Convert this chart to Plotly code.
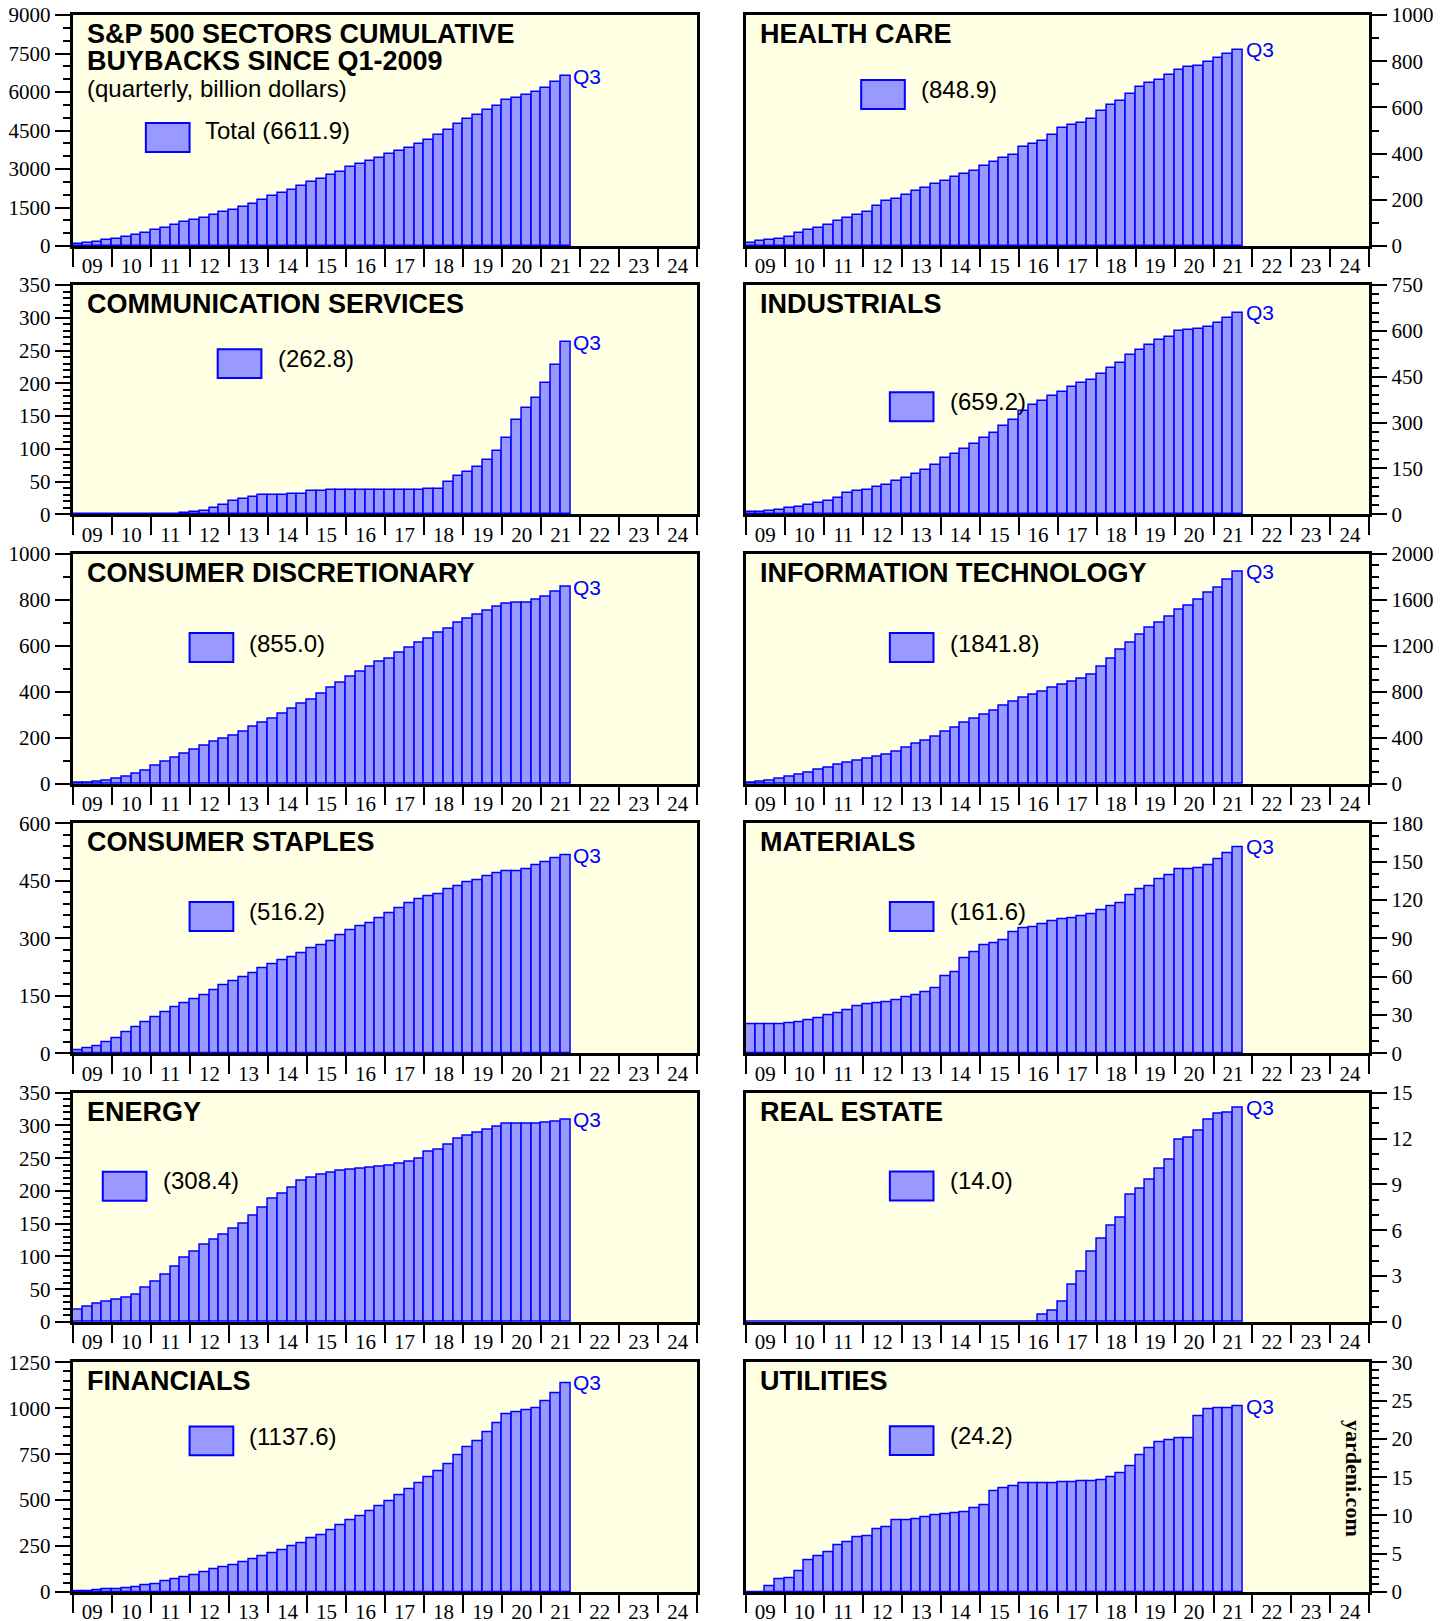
import plotly.graph_objects as go

# ---------------- data (billion dollars, cumulative, Q1-2009 .. Q3-2021) ----------------
YEAR_LABELS = ["09", "10", "11", "12", "13", "14", "15", "16", "17", "18", "19", "20", "21", "22", "23", "24"]
FIRST_YEAR = 2009
LAST_YEAR = 2025

TOTAL = [90, 130, 170, 220, 270, 340, 415, 505, 610, 700,
         820, 920, 1000, 1100, 1195, 1310, 1415, 1530, 1650, 1780,
         1935, 2050, 2195, 2340, 2480, 2610, 2750, 2900, 3065, 3195,
         3300, 3440, 3570, 3690, 3830, 3960, 4140, 4340, 4530, 4750,
         4960, 5120, 5300, 5470, 5690, 5780, 5870, 6010, 6170, 6380,
         6611.9]
HEALTH = [14, 20, 25, 32, 40, 55, 68, 79, 90, 107,
          120, 136, 149, 172, 193, 205, 222, 237, 253, 267,
          283, 297, 312, 326, 348, 365, 380, 396, 427, 442,
          456, 482, 513, 524, 534, 549, 585, 612, 627, 656,
          687, 705, 720, 741, 761, 773, 780, 796, 814, 833,
          848.9]
COMM = [0.3, 0.3, 0.3, 0.3, 0.3, 0.3, 0.3, 0.3, 0.8, 1.0,
        1.2, 1.5, 3, 5, 9, 14, 20, 24, 27, 29,
        30, 30, 31, 31, 36, 36, 36.5, 37, 37, 37,
        37.5, 37.5, 37.5, 37.5, 37.5, 37.5, 38, 39, 49, 58,
        65, 72, 83, 97, 117, 144, 162, 178, 200, 228,
        262.8]
INDUST = [8, 9, 12, 15, 19, 23, 29, 37, 44, 54,
          69, 76, 81, 89, 97, 109, 118, 132, 146, 162,
          185, 198, 215, 230, 251, 267, 290, 310, 337, 357,
          372, 387, 401, 415, 429, 440, 458, 479, 496, 520,
          538, 555, 570, 581, 600, 603, 607, 613, 627, 643,
          659.2]
CONS_DISC = [4, 7, 10, 14, 22, 33, 45, 59, 78, 96,
             116, 132, 150, 166, 182, 197, 211, 227, 249, 268,
             285, 305, 327, 349, 368, 391, 418, 440, 467, 488,
             509, 531, 546, 569, 593, 614, 633, 656, 676, 700,
             719, 734, 753, 770, 784, 786, 789, 799, 813, 834,
             855.0]
INFO_TECH = [12, 20, 30, 45, 62, 80, 101, 122, 142, 165,
             188, 205, 220, 237, 255, 280, 313, 347, 376, 408,
             457, 492, 533, 567, 602, 640, 680, 715, 747, 779,
             805, 834, 863, 889, 918, 952, 1019, 1088, 1169, 1230,
             1297, 1355, 1401, 1456, 1514, 1551, 1601, 1658, 1708, 1774,
             1841.8]
CONS_STAP = [8, 13, 19, 28, 39, 54, 68, 82, 94, 106,
             121, 130, 142, 151, 165, 177, 188, 198, 209, 221,
             233, 242, 251, 262, 274, 281, 292, 308, 320, 331,
             340, 352, 366, 377, 392, 403, 409, 416, 427, 436,
             446, 452, 461, 469, 474, 476, 481, 490, 499, 508,
             516.2]
MATERIALS = [22.4, 22.4, 22.7, 23, 23.7, 24.5, 25.6, 27.4, 29.5, 31,
             34, 36.5, 38, 39.4, 39.7, 41.2, 43.8, 45.4, 47.5, 51,
             60, 63.7, 74.6, 79.3, 84.3, 86.4, 88.7, 95, 97.6, 98.9,
             101, 103.6, 104.6, 106, 107.5, 109, 111.7, 114.8, 117.7, 123.7,
             128.6, 131, 136.4, 139.6, 144, 144.3, 145, 147.4, 151.6, 156.3,
             161.6]
ENERGY = [19, 24, 28.5, 31, 34.5, 37, 42, 52, 62, 72.7,
          85, 97.6, 108, 118, 125, 133.6, 141.8, 150.4, 162, 174,
          187.5, 196, 205, 215.4, 221, 224.6, 228, 230.7, 232.7, 234,
          235, 236.8, 238, 241, 244, 249.5, 259.7, 263.7, 270.8, 280,
          284, 288.6, 293.7, 298, 302, 302, 302, 302.8, 303.9, 305.4,
          308.4]
REAL_EST = [0, 0, 0, 0, 0, 0, 0, 0, 0, 0,
            0, 0, 0, 0, 0, 0, 0, 0, 0, 0,
            0, 0, 0, 0, 0, 0, 0, 0, 0, 0,
            0.45, 0.72, 1.3, 2.46, 3.28, 4.6, 5.43, 6.33, 6.85, 8.3,
            8.74, 9.28, 10, 10.6, 11.9, 12.07, 12.5, 13.26, 13.65, 13.7,
            14.0]
FINANCIALS = [3, 5, 8, 12, 16, 21, 27, 34, 44, 57,
              70, 80, 92, 108, 123, 134, 145, 160, 176, 192,
              210, 229, 249, 267, 290, 310, 337, 361, 388, 414,
              439, 466, 495, 524, 557, 591, 624, 655, 695, 742,
              786, 822, 869, 920, 967, 976, 989, 1001, 1036, 1080,
              1137.6]
UTILITIES = [0, 0, 0.7, 1.6, 1.8, 2.7, 4.1, 4.7, 5.25, 6.1,
             6.55, 7.16, 7.25, 8.16, 8.4, 9.33, 9.4, 9.55, 9.7, 10.0,
             10.15, 10.24, 10.4, 10.9, 11.3, 13.15, 13.6, 13.8, 14.15, 14.2,
             14.2, 14.2, 14.35, 14.36, 14.4, 14.4, 14.6, 14.97, 15.5, 16.4,
             17.8, 18.8, 19.56, 19.75, 20.1, 20.13, 23.0, 23.86, 23.95, 23.99,
             24.2]

SERIES = [TOTAL, HEALTH, COMM, INDUST, CONS_DISC, INFO_TECH,
          CONS_STAP, MATERIALS, ENERGY, REAL_EST, FINANCIALS, UTILITIES]
TITLES = ["S&P 500 SECTORS CUMULATIVE", "HEALTH CARE", "COMMUNICATION SERVICES", "INDUSTRIALS",
          "CONSUMER DISCRETIONARY", "INFORMATION TECHNOLOGY", "CONSUMER STAPLES", "MATERIALS",
          "ENERGY", "REAL ESTATE", "FINANCIALS", "UTILITIES"]
LEGEND_TEXT = ["Total (6611.9)", "(848.9)", "(262.8)", "(659.2)", "(855.0)", "(1841.8)",
               "(516.2)", "(161.6)", "(308.4)", "(14.0)", "(1137.6)", "(24.2)"]
Y_MAX = [9000, 1000, 350, 750, 1000, 2000, 600, 180, 350, 15, 1250, 30]
Y_STEP = [1500, 200, 50, 150, 200, 400, 150, 30, 50, 3, 250, 5]
Y_MINOR = [500, 100, 10, 30, 100, 100, 30, 10, 10, 1, 50, 1]

# ---------------- layout geometry ----------------
W, H = 1451, 1621
COL_X = [(72.8, 697.3), (745.8, 1369.4)]
ROW_Y = [(15, 246), (285, 514.3), (553.7, 784), (823.3, 1053.3), (1092.7, 1322), (1362.3, 1592)]
# legend box (x0, y0) and text (x, y) in axis-domain fractions
LEG_POS = [(0.117, 0.407, 0.209, 0.499), (0.185, 0.593, 0.278, 0.678),
           (0.232, 0.594, 0.325, 0.680), (0.231, 0.406, 0.324, 0.491),
           (0.187, 0.530, 0.279, 0.612), (0.231, 0.530, 0.324, 0.612),
           (0.187, 0.532, 0.279, 0.616), (0.231, 0.532, 0.324, 0.616),
           (0.048, 0.529, 0.141, 0.616), (0.231, 0.530, 0.324, 0.616),
           (0.187, 0.595, 0.279, 0.679), (0.231, 0.596, 0.324, 0.680)]
BOX_W, BOX_H = 0.070, 0.126

BAR_FILL = "#9999FF"
BAR_LINE = "#0000FF"
BG = "#FFFFE3"
SERIF = "Liberation Serif, Times New Roman, serif"
SANS = "Liberation Sans, Arial, sans-serif"

fig = go.Figure()
layout = dict(width=W, height=H, autosize=False,
              margin=dict(l=0, r=0, t=0, b=0, pad=0, autoexpand=False),
              paper_bgcolor="white", plot_bgcolor=BG, showlegend=False,
              bargap=0, font=dict(family=SERIF, color="black"))
annotations = []
shapes = []

n_q = len(TOTAL)
xs = [FIRST_YEAR + 0.125 + 0.25 * i for i in range(n_q)]
last_x = FIRST_YEAR + 0.25 * n_q

for k in range(12):
    r, c = divmod(k, 2)
    idx = "" if k == 0 else str(k + 1)
    xa, ya = "x" + idx, "y" + idx
    vals = SERIES[k]
    fig.add_trace(go.Bar(x=xs, y=vals, width=0.25, xaxis=xa, yaxis=ya,
                         marker=dict(color=BAR_FILL, line=dict(color=BAR_LINE, width=1.5)),
                         hoverinfo="x+y"))
    x0p, x1p = COL_X[c]
    y0p, y1p = ROW_Y[r]
    layout["xaxis" + idx] = dict(
        domain=[x0p / W, x1p / W], range=[FIRST_YEAR, LAST_YEAR], anchor=ya,
        automargin=False,
        tickmode="array", tickvals=[FIRST_YEAR + 0.5 + i for i in range(len(YEAR_LABELS))],
        ticktext=YEAR_LABELS, ticks="", showgrid=False, zeroline=False,
        showline=True, linewidth=3, linecolor="black", mirror=True,
        tickfont=dict(family=SERIF, size=21, color="black"), ticklabelstandoff=-1,
        minor=dict(tickmode="linear", tick0=FIRST_YEAR, dtick=1, ticks="outside",
                   ticklen=18, tickwidth=2, tickcolor="black", showgrid=False),
        fixedrange=True)
    tv = list(range(0, Y_MAX[k] + 1, Y_STEP[k]))
    layout["yaxis" + idx] = dict(
        domain=[1 - y1p / H, 1 - y0p / H], range=[0, Y_MAX[k]], anchor=xa,
        automargin=False,
        side="left" if c == 0 else "right",
        tickmode="array", tickvals=tv, ticktext=[str(v) for v in tv],
        ticks="outside", ticklen=15, tickwidth=1.5, tickcolor="black",
        showgrid=False, zeroline=False,
        showline=True, linewidth=3, linecolor="black", mirror=True,
        tickfont=dict(family=SERIF, size=21, color="black"),
        minor=dict(tickmode="linear", tick0=0, dtick=Y_MINOR[k], ticks="outside",
                   ticklen=7, tickwidth=1.5, tickcolor="black", showgrid=False),
        fixedrange=True)

    xd, yd = xa + " domain", ya + " domain"
    # title
    if k == 0:
        annotations.append(dict(xref=xd, yref=yd, x=0.019, y=0.917, xanchor="left", yanchor="middle",
                                text="<b>S&P 500 SECTORS CUMULATIVE</b>", showarrow=False,
                                font=dict(family=SANS, size=27, color="black")))
        annotations.append(dict(xref=xd, yref=yd, x=0.019, y=0.800, xanchor="left", yanchor="middle",
                                text="<b>BUYBACKS SINCE Q1-2009</b>", showarrow=False,
                                font=dict(family=SANS, size=27, color="black")))
        annotations.append(dict(xref=xd, yref=yd, x=0.019, y=0.683, xanchor="left", yanchor="middle",
                                text="(quarterly, billion dollars)", showarrow=False,
                                font=dict(family=SANS, size=24, color="black")))
    else:
        annotations.append(dict(xref=xd, yref=yd, x=0.019, y=0.917, xanchor="left", yanchor="middle",
                                text="<b>" + TITLES[k] + "</b>", showarrow=False,
                                font=dict(family=SANS, size=27, color="black")))
    # legend box + text
    bx, by, tx, ty = LEG_POS[k]
    shapes.append(dict(type="rect", xref=xd, yref=yd, x0=bx, x1=bx + BOX_W, y0=by, y1=by + BOX_H,
                       fillcolor=BAR_FILL, line=dict(color=BAR_LINE, width=2), layer="above"))
    annotations.append(dict(xref=xd, yref=yd, x=tx, y=ty, xanchor="left", yanchor="middle",
                            text=LEGEND_TEXT[k], showarrow=False,
                            font=dict(family=SANS, size=24, color="black")))
    # Q3 marker
    annotations.append(dict(xref=xa, yref=ya, x=last_x, y=vals[-1], xanchor="left", yanchor="middle",
                            xshift=1, text="Q3", showarrow=False,
                            font=dict(family=SANS, size=21, color="#0000FF")))

annotations.append(dict(xref="paper", yref="paper", x=1354 / W, y=1 - 1478 / H,
                        xanchor="center", yanchor="middle", text="<b>yardeni.com</b>",
                        textangle=90, showarrow=False,
                        font=dict(family=SERIF, size=22, color="black")))

layout["annotations"] = annotations
layout["shapes"] = shapes
fig.update_layout(**layout)
fig.write_html("out.html",
               config={"displayModeBar": False, "responsive": False},
               post_script="document.body.style.margin='0';document.body.style.padding='0';"
                           "document.documentElement.style.overflow='hidden';")
